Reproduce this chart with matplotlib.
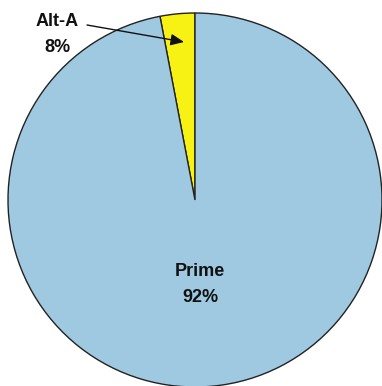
import matplotlib
matplotlib.use("Agg")
import matplotlib.pyplot as plt

categories = ["Alt-A", "Prime"]
label_pct = ["8%", "92%"]
# slice shares as drawn in the picture
drawn_share = [3.0, 97.0]
colors = ["#F7F214", "#9FC9E0"]

fig = plt.figure(figsize=(3.82, 3.86), dpi=100)
ax = fig.add_axes([0, 0, 1, 1])

cx, cy, r = 195, 186, 187
ax.pie(drawn_share, colors=colors, startangle=90, counterclock=True,
       center=(cx, cy), radius=r, frame=True,
       wedgeprops=dict(edgecolor="#222222", linewidth=1.0))
ax.set_xlim(0, 382)
ax.set_ylim(0, 386)
ax.set_aspect("equal")
ax.axis("off")

font = dict(family=["Liberation Sans", "DejaVu Sans"], fontweight="bold", fontsize=13, color="#111111")
ax.text(57, 386 - 21, categories[0], ha="center", va="center", **font)
ax.text(57, 386 - 47, label_pct[0], ha="center", va="center", **font)
ax.text(200, 386 - 271, categories[1], ha="center", va="center", **font)
ax.text(200, 386 - 298, label_pct[1], ha="center", va="center", **font)

ax.annotate("", xy=(184, 386 - 42), xytext=(87, 386 - 25),
            arrowprops=dict(arrowstyle="-|>,head_length=0.8,head_width=0.35",
                            color="#111111", lw=1.0, shrinkA=0, shrinkB=0))

fig.savefig("out.png", dpi=100)
